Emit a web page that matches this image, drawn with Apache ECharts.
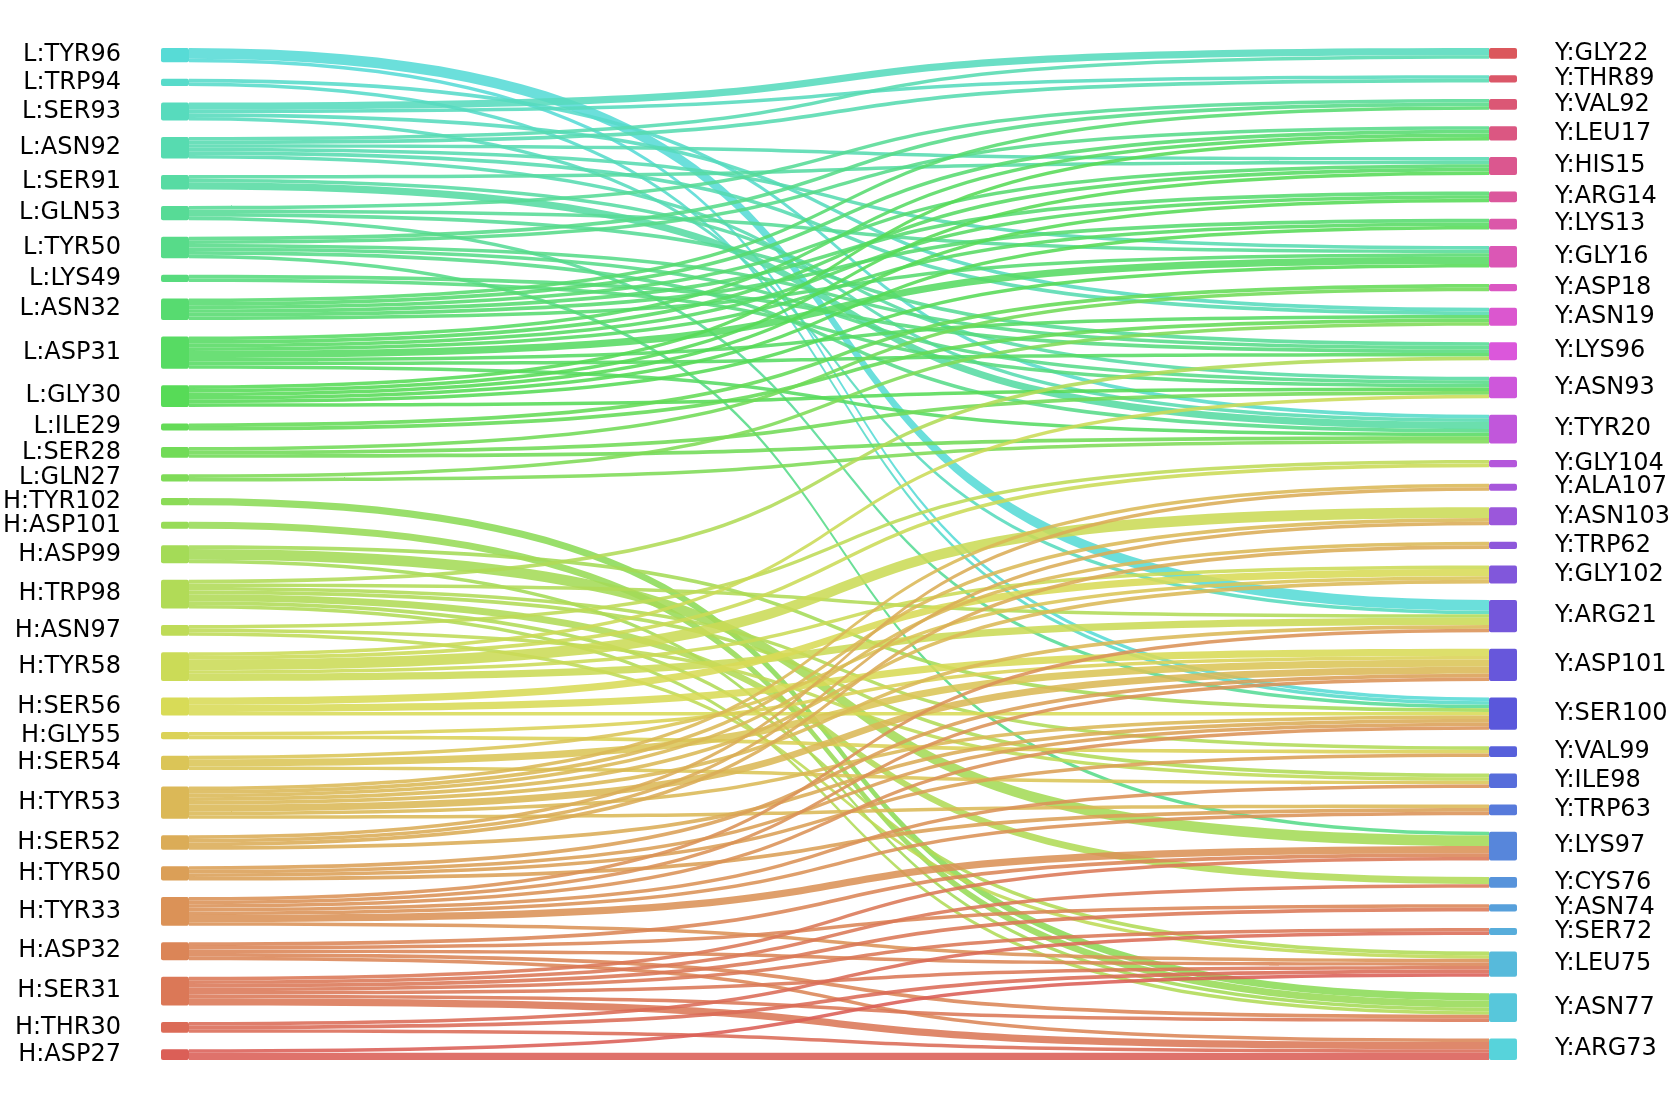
<!DOCTYPE html>
<html>
<head>
<meta charset="utf-8">
<script src="https://cdn.jsdelivr.net/npm/echarts@6/dist/echarts.min.js"></script>
<style>
html,body{margin:0;padding:0;background:#fff;}
#chart{width:1673px;height:1108px;}
</style>
</head>
<body>
<div id="chart"></div>
<script>
const leftNodes = ['L:TYR96','L:TRP94','L:SER93','L:ASN92','L:SER91','L:GLN53','L:TYR50','L:LYS49','L:ASN32','L:ASP31','L:GLY30','L:ILE29','L:SER28','L:GLN27','H:TYR102','H:ASP101','H:ASP99','H:TRP98','H:ASN97','H:TYR58','H:SER56','H:GLY55','H:SER54','H:TYR53','H:SER52','H:TYR50','H:TYR33','H:ASP32','H:SER31','H:THR30','H:ASP27'];
const rightNodes = ['Y:GLY22','Y:THR89','Y:VAL92','Y:LEU17','Y:HIS15','Y:ARG14','Y:LYS13','Y:GLY16','Y:ASP18','Y:ASN19','Y:LYS96','Y:ASN93','Y:TYR20','Y:GLY104','Y:ALA107','Y:ASN103','Y:TRP62','Y:GLY102','Y:ARG21','Y:ASP101','Y:SER100','Y:VAL99','Y:ILE98','Y:TRP63','Y:LYS97','Y:CYS76','Y:ASN74','Y:SER72','Y:LEU75','Y:ASN77','Y:ARG73'];

const lightChainLinks = [
 ['L:TYR96','Y:ARG21',3],['L:TYR96','Y:SER100',1],
 ['L:TRP94','Y:TYR20',1],['L:TRP94','Y:SER100',1],
 ['L:SER93','Y:GLY22',2],['L:SER93','Y:THR89',1],['L:SER93','Y:ASN19',1],['L:SER93','Y:ARG21',1],
 ['L:ASN92','Y:GLY22',1],['L:ASN92','Y:THR89',1],['L:ASN92','Y:HIS15',1],['L:ASN92','Y:GLY16',1],['L:ASN92','Y:ASN19',1],['L:ASN92','Y:TYR20',1],
 ['L:SER91','Y:HIS15',1],['L:SER91','Y:ASN93',1],['L:SER91','Y:TYR20',2],
 ['L:GLN53','Y:VAL92',1],['L:GLN53','Y:GLY16',1],['L:GLN53','Y:LYS96',1],['L:GLN53','Y:SER100',1],
 ['L:TYR50','Y:VAL92',1],['L:TYR50','Y:LEU17',1],['L:TYR50','Y:LYS96',1],['L:TYR50','Y:ASN93',1],['L:TYR50','Y:TYR20',1],['L:TYR50','Y:LYS97',1],
 ['L:LYS49','Y:LYS96',1],['L:LYS49','Y:ASN93',1],
 ['L:ASN32','Y:VAL92',1],['L:ASN32','Y:LEU17',1],['L:ASN32','Y:HIS15',1],['L:ASN32','Y:ARG14',1],['L:ASN32','Y:LYS13',1],['L:ASN32','Y:GLY16',1],
 ['L:ASP31','Y:LEU17',1],['L:ASP31','Y:HIS15',1],['L:ASP31','Y:ARG14',1],['L:ASP31','Y:LYS13',1],['L:ASP31','Y:GLY16',2],['L:ASP31','Y:ASN19',1],['L:ASP31','Y:LYS96',1],['L:ASP31','Y:TYR20',1],
 ['L:GLY30','Y:LEU17',1],['L:GLY30','Y:HIS15',1],['L:GLY30','Y:ARG14',1],['L:GLY30','Y:LYS13',1],['L:GLY30','Y:GLY16',1],['L:GLY30','Y:ASN93',1],
 ['L:ILE29','Y:ASP18',1],['L:ILE29','Y:ASN19',1],
 ['L:SER28','Y:ASP18',1],['L:SER28','Y:ASN93',1],['L:SER28','Y:TYR20',1],
 ['L:GLN27','Y:ASN19',1],['L:GLN27','Y:TYR20',1]
];

const heavyChainLinks = [
 ['H:TYR102','Y:ASN77',2],
 ['H:ASP101','Y:ASN77',2],
 ['H:ASP99','Y:SER100',1],['H:ASP99','Y:LYS97',3],['H:ASP99','Y:ASN77',1],
 ['H:TRP98','Y:LYS96',1],['H:TRP98','Y:ARG21',1],['H:TRP98','Y:VAL99',1],['H:TRP98','Y:ILE98',1],['H:TRP98','Y:CYS76',2],['H:TRP98','Y:LEU75',1],['H:TRP98','Y:ASN77',1],
 ['H:ASN97','Y:GLY104',1],['H:ASN97','Y:ILE98',1],['H:ASN97','Y:LEU75',1],
 ['H:TYR58','Y:ASN93',1],['H:TYR58','Y:GLY104',1],['H:TYR58','Y:ASN103',3],['H:TYR58','Y:GLY102',1],['H:TYR58','Y:ARG21',2],
 ['H:SER56','Y:GLY102',2],['H:SER56','Y:ASP101',2],['H:SER56','Y:SER100',1],
 ['H:GLY55','Y:ASP101',1],['H:GLY55','Y:VAL99',1],
 ['H:SER54','Y:GLY102',1],['H:SER54','Y:ASP101',2],['H:SER54','Y:ILE98',1],
 ['H:TYR53','Y:ALA107',1],['H:TYR53','Y:ASN103',1],['H:TYR53','Y:TRP62',1],['H:TYR53','Y:GLY102',1],['H:TYR53','Y:ARG21',1],['H:TYR53','Y:ASP101',2],['H:TYR53','Y:SER100',1],['H:TYR53','Y:TRP63',1],
 ['H:SER52','Y:ALA107',1],['H:SER52','Y:ASN103',1],['H:SER52','Y:TRP62',1],['H:SER52','Y:SER100',1],
 ['H:TYR50','Y:ASP101',1],['H:TYR50','Y:SER100',1],['H:TYR50','Y:VAL99',1],['H:TYR50','Y:TRP63',1],
 ['H:TYR33','Y:ARG21',1],['H:TYR33','Y:ASP101',1],['H:TYR33','Y:SER100',1],['H:TYR33','Y:ILE98',1],['H:TYR33','Y:TRP63',1],['H:TYR33','Y:LYS97',2],['H:TYR33','Y:LEU75',1],
 ['H:ASP32','Y:LYS97',1],['H:ASP32','Y:ASN74',1],['H:ASP32','Y:LEU75',1],['H:ASP32','Y:ASN77',1],['H:ASP32','Y:ARG73',1],
 ['H:SER31','Y:LYS97',1],['H:SER31','Y:CYS76',1],['H:SER31','Y:ASN74',1],['H:SER31','Y:SER72',1],['H:SER31','Y:LEU75',1],['H:SER31','Y:ASN77',1],['H:SER31','Y:ARG73',2],
 ['H:THR30','Y:SER72',1],['H:THR30','Y:LEU75',1],['H:THR30','Y:ARG73',1],
 ['H:ASP27','Y:LEU75',1],['H:ASP27','Y:ARG73',2]
];

// colours: evenly spaced hues (hls palette, l=0.6, s=0.65)
const STEP = 360 / 62;
function hsl(h){ h = ((h % 360) + 360) % 360; return 'hsl(' + h.toFixed(2) + ',65%,60%)'; }
const FONT = "'DejaVu Sans', sans-serif";

const nodes = [];
leftNodes.forEach(function(n, i){
  nodes.push({name: n, itemStyle: {color: hsl((30 - i) * STEP + 3.6)},
    label: {position: 'left', distance: 40}});
});
rightNodes.forEach(function(n, j){
  nodes.push({name: n, itemStyle: {color: hsl(360 - (j + 1) * STEP + 3.6)},
    label: {position: 'right', distance: 38}});
});
const links = lightChainLinks.concat(heavyChainLinks).map(function(l){
  return {source: l[0], target: l[1], value: l[2]};
});

const chart = echarts.init(document.getElementById('chart'), null, {renderer: 'canvas'});
chart.setOption({
  backgroundColor: '#ffffff',
  animation: false,
  series: [{
    type: 'sankey',
    left: 161, right: 156, top: 48, bottom: 48,
    nodeWidth: 28,
    nodeGap: 16.5,
    layoutIterations: 0,
    draggable: false,
    nodeAlign: 'justify',
    emphasis: {disabled: true},
    data: nodes,
    links: links,
    itemStyle: {borderWidth: 0, borderRadius: 2},
    lineStyle: {color: 'source', opacity: 0.88, curveness: 0.7},
    label: {color: '#000', fontSize: 24, fontFamily: FONT}
  }]
});
</script>
</body>
</html>
